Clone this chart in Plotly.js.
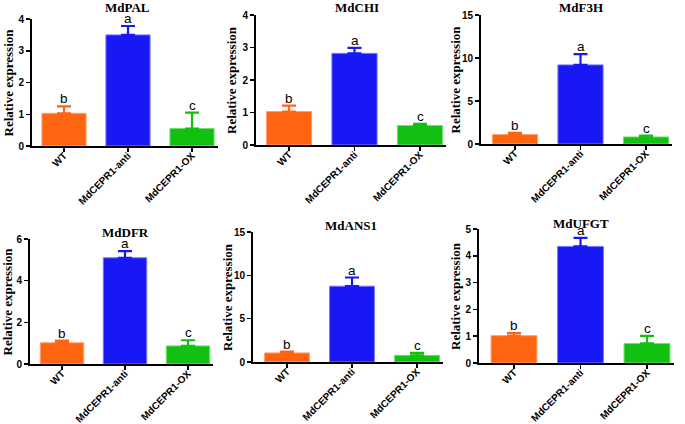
<!DOCTYPE html>
<html>
<head>
<meta charset="utf-8">
<script src="https://cdn.plot.ly/plotly-3.0.1.min.js"></script>
<style>html,body{margin:0;padding:0;background:#fff;}#chart{width:685px;height:424px;}</style>
</head>
<body>
<div id="chart"></div>
<script>
// ---- data ----
const categories = ["WT", "MdCEPR1-anti", "MdCEPR1-OX"];
const genes = ["MdPAL", "MdCHI", "MdF3H", "MdDFR", "MdANS1", "MdUFGT"];
const letters = ["b", "a", "c"];

const palMean  = [1.03, 3.50, 0.55];
const palErr   = [0.22, 0.28, 0.50];
const chiMean  = [1.03, 2.82, 0.60];
const chiErr   = [0.18, 0.17, 0.05];
const f3hMean  = [1.10, 9.20, 0.82];
const f3hErr   = [0.20, 1.25, 0.15];
const dfrMean  = [1.02, 5.10, 0.87];
const dfrErr   = [0.10, 0.32, 0.27];
const ans1Mean = [1.05, 8.75, 0.77];
const ans1Err  = [0.15, 1.00, 0.28];
const ufgtMean = [1.02, 4.35, 0.73];
const ufgtErr  = [0.10, 0.32, 0.28];

const yMax  = [4, 4, 15, 6, 15, 5];
const yTick = [1, 1, 5, 2, 5, 1];

const means = [palMean, chiMean, f3hMean, dfrMean, ans1Mean, ufgtMean];
const errs  = [palErr, chiErr, f3hErr, dfrErr, ans1Err, ufgtErr];

// ---- styling / layout geometry (pixels) ----
const W = 685, H = 424;
const colors = ["#ff6410", "#1818f5", "#12c012"];
const edge   = ["#ffa070", "#7a7aff", "#70e070"];
// [yAxisX, firstCenterX, spacing, plotTopY, plotBottomY, titleX, titleY, yTitleX]
const geom = [
  [32, 64, 64, 19, 146, 128, 8, 8],
  [256, 289, 65.5, 15, 145, 357, 8, 232],
  [481, 515, 65.5, 15, 144, 581, 8, 455],
  [30, 62, 63, 239, 364, 125, 232, 7],
  [253, 287, 65, 232, 362, 351, 225, 227],
  [479, 514, 66.5, 229, 363, 581, 223, 455]
];
const UPPER = 2.4;

const traces = [];
const layout = {
  width: W, height: H,
  margin: {l: 0, r: 0, t: 0, b: 0},
  paper_bgcolor: "#ffffff", plot_bgcolor: "#ffffff",
  showlegend: false,
  barmode: "overlay",
  annotations: []
};

geom.forEach((g, i) => {
  const [L, c0, s, top, bot, tx, ty, ytx] = g;
  const lower = -(c0 - L) / s;
  const E = L + (UPPER - lower) * s;
  const n = i + 1;
  const xa = "xaxis" + (n === 1 ? "" : n);
  const ya = "yaxis" + (n === 1 ? "" : n);
  const xr = "x" + (n === 1 ? "" : n);
  const yr = "y" + (n === 1 ? "" : n);

  categories.forEach((c, k) => {
    traces.push({
      type: "bar",
      x: [c], y: [means[i][k]],
      xaxis: xr, yaxis: yr,
      width: 0.69,
      marker: {color: colors[k], line: {color: edge[k], width: 1}},
      error_y: {type: "data", symmetric: false, array: [errs[i][k]], arrayminus: [0],
                color: colors[k], thickness: 2.2, width: 7},
      hoverinfo: "skip"
    });
    layout.annotations.push({
      xref: xr, yref: yr, x: c, y: means[i][k] + errs[i][k],
      text: letters[k], showarrow: false, yanchor: "bottom", yshift: -2,
      font: {family: "Liberation Sans, Arial, sans-serif", size: 13.5, color: "#000"}
    });
  });

  layout[xa] = {
    domain: [L / W, E / W],
    range: [lower, UPPER],
    type: "category",
    categoryorder: "array", categoryarray: categories,
    anchor: yr,
    showline: true, linecolor: "#000", linewidth: 2,
    ticks: "outside", ticklen: 4, tickwidth: 1.5, tickcolor: "#000",
    tickangle: -45,
    ticklabelstandoff: -6,
    tickfont: {family: "Liberation Sans, Arial, sans-serif", size: 10, color: "#000", weight: "bold"},
    showgrid: false, zeroline: false, fixedrange: true
  };
  layout[ya] = {
    domain: [1 - bot / H, 1 - top / H],
    range: [0, yMax[i]],
    anchor: xr,
    dtick: yTick[i], tick0: 0,
    showline: true, linecolor: "#000", linewidth: 2,
    ticks: "outside", ticklen: 4, tickwidth: 1.5, tickcolor: "#000",
    tickfont: {family: "Liberation Sans, Arial, sans-serif", size: 10, color: "#000", weight: "bold"},
    showgrid: false, zeroline: false, fixedrange: true
  };

  layout.annotations.push({
    xref: "paper", yref: "paper", x: tx / W, y: 1 - ty / H,
    text: genes[i], showarrow: false, xanchor: "center", yanchor: "middle",
    font: {family: "Liberation Serif, Times New Roman, serif", size: 13, color: "#000", weight: "bold"}
  });
  layout.annotations.push({
    xref: "paper", yref: "paper", x: ytx / W, y: 1 - ((top + bot) / 2) / H,
    text: "Relative expression", showarrow: false, textangle: -90,
    xanchor: "center", yanchor: "middle",
    font: {family: "Liberation Serif, Times New Roman, serif", size: 13, color: "#000", weight: "bold"}
  });
});

Plotly.newPlot("chart", traces, layout, {displayModeBar: false, staticPlot: true});
</script>
</body>
</html>
